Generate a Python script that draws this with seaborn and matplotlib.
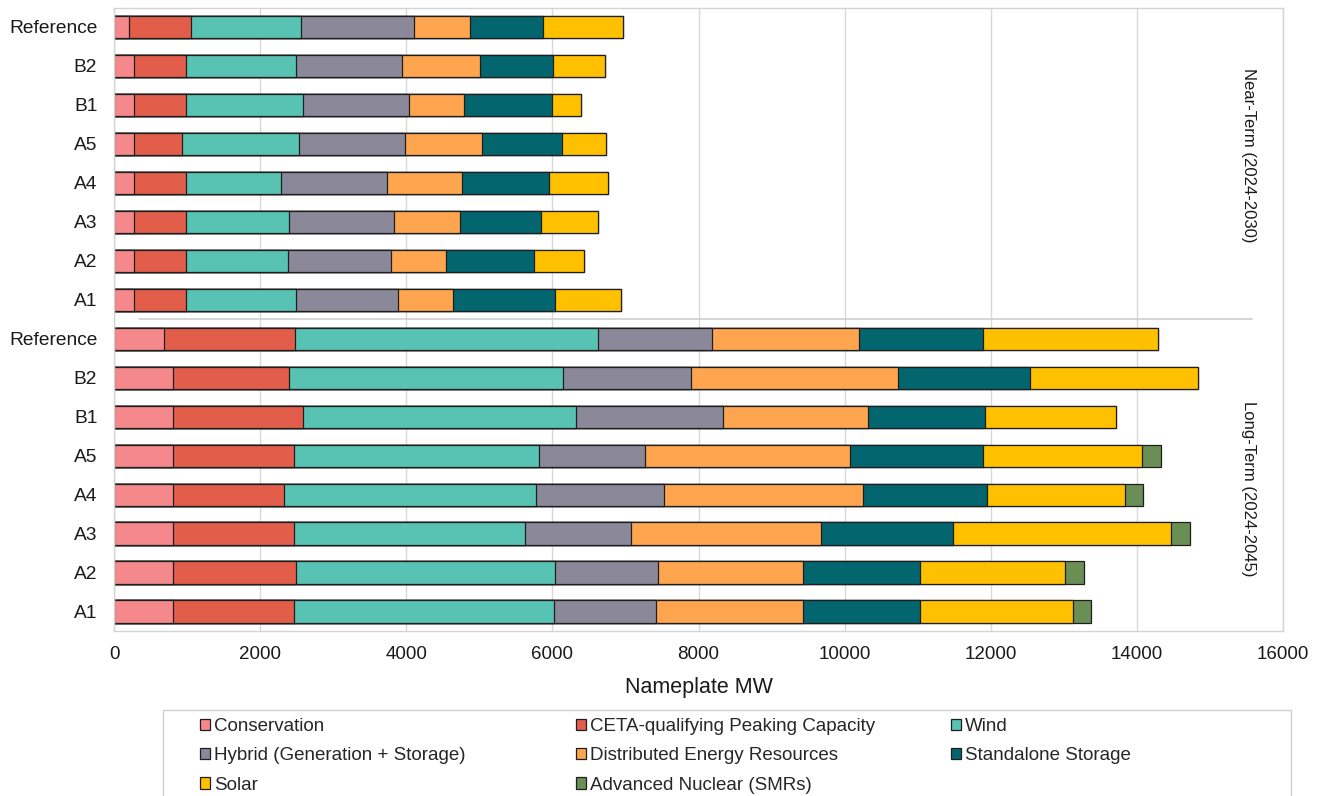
import numpy as np
import pandas as pd
import matplotlib
matplotlib.use("Agg")
import matplotlib.pyplot as plt
import matplotlib.transforms as mtransforms
from matplotlib.patches import Patch, Rectangle
import seaborn as sns

# Portfolio scenarios (top to bottom within each horizon)
scenarios = ["Reference", "B2", "B1", "A5", "A4", "A3", "A2", "A1"]
horizons = ["Near-Term (2024-2030)", "Long-Term (2024-2045)"]

resources = [
    "Conservation",
    "CETA-qualifying Peaking Capacity",
    "Wind",
    "Hybrid (Generation + Storage)",
    "Distributed Energy Resources",
    "Standalone Storage",
    "Solar",
    "Advanced Nuclear (SMRs)",
]

# Nameplate MW by resource, near-term horizon
cons_near = [210, 270, 270, 270, 270, 270, 270, 270]
ceta_near = [850, 715, 715, 655, 715, 715, 715, 715]
wind_near = [1500, 1505, 1605, 1605, 1305, 1405, 1400, 1505]
hybrid_near = [1550, 1450, 1445, 1455, 1445, 1445, 1400, 1395]
der_near = [760, 1070, 755, 1045, 1025, 900, 755, 750]
storage_near = [1005, 1005, 1200, 1105, 1200, 1105, 1205, 1400]
solar_near = [1095, 705, 395, 595, 795, 785, 690, 900]
nuclear_near = [0, 0, 0, 0, 0, 0, 0, 0]

# Nameplate MW by resource, long-term horizon
cons_long = [685, 810, 810, 810, 810, 810, 810, 810]
ceta_long = [1795, 1590, 1770, 1660, 1515, 1660, 1685, 1660]
wind_long = [4145, 3750, 3750, 3350, 3450, 3150, 3545, 3550]
hybrid_long = [1555, 1750, 2000, 1450, 1750, 1450, 1400, 1400]
der_long = [2020, 2835, 1990, 2810, 2720, 2610, 1985, 2005]
storage_long = [1700, 1805, 1605, 1810, 1705, 1805, 1605, 1610]
solar_long = [2390, 2290, 1790, 2185, 1885, 2985, 1990, 2085]
nuclear_long = [0, 0, 0, 250, 255, 255, 250, 255]

colors = ["#F4888A", "#E35D4B", "#58C3B2", "#8B8899",
          "#FFA54F", "#03666F", "#FFC000", "#6A8F55"]

x_ticks = [0, 2000, 4000, 6000, 8000, 10000, 12000, 14000, 16000]

near = [cons_near, ceta_near, wind_near, hybrid_near,
        der_near, storage_near, solar_near, nuclear_near]
long_ = [cons_long, ceta_long, wind_long, hybrid_long,
         der_long, storage_long, solar_long, nuclear_long]

rows = [f"{h}|{s}" for h in horizons for s in scenarios]
df = pd.DataFrame(
    {res: list(n) + list(l) for res, n, l in zip(resources, near, long_)},
    index=rows,
)
cum = df.cumsum(axis=1)

sns.set_theme(style="white")
plt.rcParams["font.family"] = ["Liberation Sans", "DejaVu Sans"]

fig = plt.figure(figsize=(13.21, 7.96), dpi=100)
ax = fig.add_axes([114 / 1321, 1 - 631 / 796, (1283 - 114) / 1321, (631 - 7.5) / 796])

# Stacked bars: draw cumulative totals from the outermost segment inwards
for res, col in reversed(list(zip(resources, colors))):
    data = pd.DataFrame({"row": rows, "mw": cum[res].values})
    sns.barplot(data=data, x="mw", y="row", order=rows, orient="h",
                color=col, saturation=1, width=0.57, errorbar=None,
                edgecolor="#1e1e1e", linewidth=0.9, ax=ax, zorder=2)

ax.set_xlim(0, 16000)
ax.set_ylim(15.5, -0.5)
ax.set_xticks(x_ticks)
ax.set_xticklabels([str(t) for t in x_ticks], fontsize=13.5, color="#1a1a1a")
ax.set_yticks(range(len(rows)))
ax.set_yticklabels([r.split("|")[1] for r in rows], fontsize=13.8, color="#1a1a1a")
ax.tick_params(axis="both", length=0)
ax.tick_params(axis="y", pad=12)
ax.tick_params(axis="x", pad=11)
ax.set_ylabel("")
ax.set_xlabel("Nameplate MW", fontsize=15.5, color="#1a1a1a", labelpad=10)

ax.xaxis.grid(True, color="#d9d9d9", linewidth=1)
ax.yaxis.grid(False)
ax.set_axisbelow(True)
for sp in ax.spines.values():
    sp.set_visible(True)
    sp.set_color("#d4d4d4")
    sp.set_linewidth(1)

# Divider between the two planning horizons
ax.axhline(7.5, xmin=0.0214, xmax=0.9735, color="#cfcfcf", linewidth=1.2, zorder=1)

# Horizon labels along the right-hand side
blend = mtransforms.blended_transform_factory(ax.transAxes, ax.transData)
ax.text(0.9705, 3.3, horizons[0], transform=blend, rotation=270,
        ha="center", va="center", fontsize=12, color="#1a1a1a")
ax.text(0.9705, 11.84, horizons[1], transform=blend, rotation=270,
        ha="center", va="center", fontsize=12, color="#1a1a1a")

# Legend: boxed, three fixed-width columns
fig.add_artist(Rectangle((163 / 1321, -0.05), (1291 - 163) / 1321,
                         (1 - 710 / 796) + 0.05, transform=fig.transFigure,
                         fill=False, edgecolor="#d0d0d0", linewidth=1))
handles = [Patch(facecolor=c, edgecolor="#1e1e1e", linewidth=0.9, label=r)
           for r, c in zip(resources, colors)]
columns = [[0, 3, 6], [1, 4, 7], [2, 5]]
col_x = [200, 576, 951]
for idx, xpx in zip(columns, col_x):
    fig.legend(handles=[handles[i] for i in idx], loc="upper left",
               bbox_to_anchor=(xpx / 1321, 1 - 718 / 796),
               frameon=False, fontsize=13.5, borderpad=0, borderaxespad=0,
               handlelength=0.55, handleheight=0.55, handletextpad=0.2,
               labelspacing=0.66)

fig.savefig("out.png", dpi=100)
